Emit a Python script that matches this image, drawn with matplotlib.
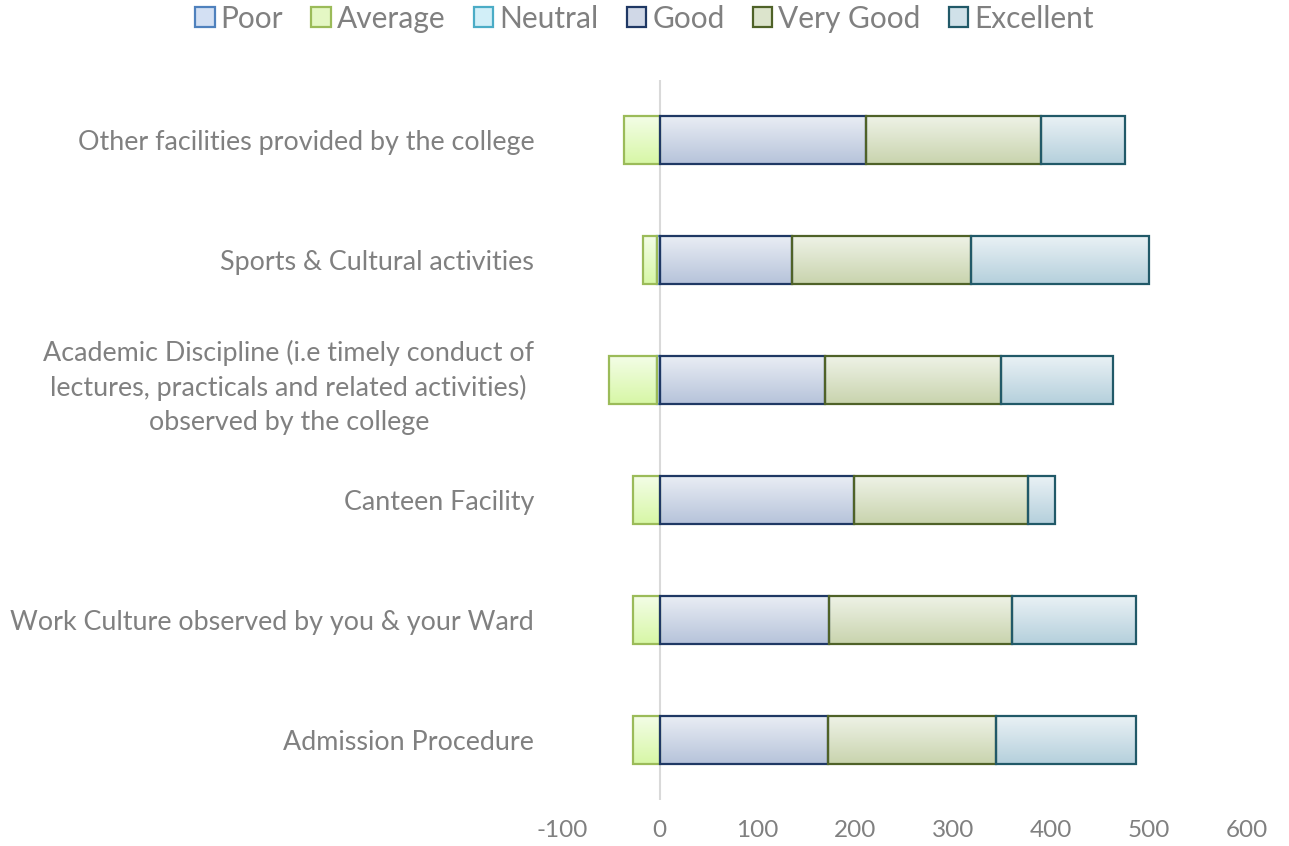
import numpy as np
import matplotlib.pyplot as plt
from matplotlib.patches import Patch
from matplotlib.colors import LinearSegmentedColormap

# data area
categories = ["Admission Procedure",
              "Work Culture observed by you & your Ward",
              "Canteen Facility",
              "Academic Discipline (i.e timely conduct of\nlectures, practicals and related activities)\nobserved by the college",
              "Sports & Cultural activities",
              "Other facilities provided by the college"]
poor = [0, 0, 0, 3, 3, 0]
average = [27, 27, 27, 49, 14, 37]
neutral = [0, 0, 0, 0, 0, 0]
good = [172, 173, 199, 169, 135, 211]
very_good = [172, 187, 178, 180, 183, 179]
excellent = [143, 127, 27, 115, 182, 86]
x_ticks = [-100, 0, 100, 200, 300, 400, 500, 600]

series_names = ["Poor", "Average", "Neutral", "Good", "Very Good", "Excellent"]
tops = ["#e5eefa", "#f3fde6", "#e6f7fc", "#e9edf4", "#eef2e6", "#e9f1f5"]
bottoms = ["#b7cdef", "#d7f7a6", "#b1e4f3", "#b6c3da", "#c9d4ae", "#b5d0dc"]
fills = ["#d3e0f3", "#e4f7c4", "#d2eff8", "#d0d8e7", "#dce4cc", "#d0e1e9"]
edges = ["#4f81bd", "#9bbb59", "#4bacc6", "#1f3864", "#4f6228", "#215968"]

grey = "#808080"
plt.rcParams["font.family"] = ["Lato", "DejaVu Sans"]

fig = plt.figure(figsize=(12.89, 8.46), dpi=100)
ax = fig.add_axes([0.436, 0.054, 0.531, 0.851])

y = np.arange(len(categories))
h = 0.4


def gradient_bars(ys, widths, lefts, i):
    cmap = LinearSegmentedColormap.from_list("g%d" % i, [bottoms[i], tops[i]])
    for yy, w, l in zip(ys, widths, lefts):
        if w == 0:
            continue
        p = ax.barh(yy, w, left=l, height=h, color="none", edgecolor=edges[i],
                    linewidth=1.6, zorder=3)[0]
        x0, x1 = sorted([l, l + w])
        im = ax.imshow(np.linspace(0, 1, 50).reshape(-1, 1), cmap=cmap, aspect="auto",
                       origin="lower", extent=[x0, x1, yy - h / 2, yy + h / 2],
                       zorder=2, interpolation="bilinear")
        im.set_clip_path(p)


poor_a = np.array(poor)
avg_a = np.array(average)
neu_a = np.array(neutral)
# negative side, stacked from zero to the left
gradient_bars(y, -poor_a, np.zeros(len(y)), 0)
gradient_bars(y, -avg_a, -poor_a, 1)
gradient_bars(y, -neu_a, -poor_a - avg_a, 2)

# positive side
g = np.array(good)
vg = np.array(very_good)
ex = np.array(excellent)
gradient_bars(y, g, np.zeros(len(y)), 3)
gradient_bars(y, vg, g, 4)
gradient_bars(y, ex, g + vg, 5)

ax.axvline(0, color="#d9d9d9", linewidth=1.5, zorder=1)

ax.set_xlim(-100, 600)
ax.set_ylim(-0.5, len(categories) - 0.5)
ax.set_xticks(x_ticks)
ax.set_xticklabels([str(t) for t in x_ticks])
ax.set_yticks(y)
ax.set_yticklabels(categories, ha="right", multialignment="center", linespacing=1.45)
ax.tick_params(axis="both", length=0, colors=grey)
ax.tick_params(axis="y", pad=20, labelsize=19.4)
ax.tick_params(axis="x", pad=14, labelsize=17.5)
for s in ax.spines.values():
    s.set_visible(False)

handles = [Patch(facecolor=fills[i], edgecolor=edges[i], linewidth=1.6) for i in range(6)]
fig.legend(handles, series_names, loc="upper center", bbox_to_anchor=(0.5, 1.026), ncol=6,
           frameon=False, fontsize=21.5, labelcolor=grey, handlelength=0.65, handleheight=0.65,
           handletextpad=0.2, columnspacing=0.95)

fig.savefig("out.png", dpi=100)
